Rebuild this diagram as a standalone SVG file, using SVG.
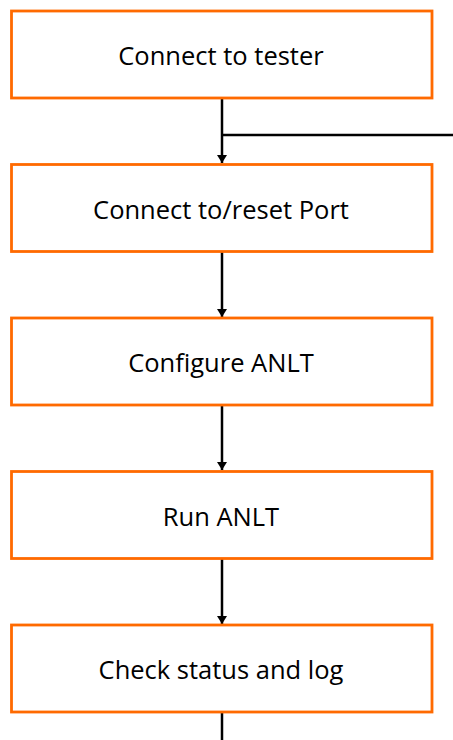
<svg xmlns="http://www.w3.org/2000/svg" width="453" height="740" viewBox="0 0 453 740">
<style>
.box{fill:#fff;stroke:#ff6a00;stroke-width:2.8}
.lbl{font-family:"Open Sans","Liberation Sans",sans-serif;font-size:25.5px;fill:#000;text-anchor:middle;dominant-baseline:central}
.ln{stroke:#000;stroke-width:2.5;fill:none}
</style>
<defs>
<marker id="ah" markerWidth="8" markerHeight="10" refX="8" refY="5" orient="auto" markerUnits="userSpaceOnUse" viewBox="0 0 8 10">
<path d="M0,0 L8,5 L0,10 Z" fill="#000"/>
</marker>
</defs>
<rect width="453" height="740" fill="#fff"/>
<g id="connectors">
<line class="ln" x1="222" y1="98" x2="222" y2="163" marker-end="url(#ah)"/>
<line class="ln" x1="222" y1="135" x2="453" y2="135"/>
<line class="ln" x1="222" y1="251" x2="222" y2="317" marker-end="url(#ah)"/>
<line class="ln" x1="222" y1="405" x2="222" y2="470" marker-end="url(#ah)"/>
<line class="ln" x1="222" y1="558" x2="222" y2="624" marker-end="url(#ah)"/>
<line class="ln" x1="222" y1="712" x2="222" y2="740"/>
</g>
<g id="n1"><rect class="box" x="11.5" y="11" width="420.5" height="87"/><text class="lbl" x="221" y="55">Connect to tester</text></g>
<g id="n2"><rect class="box" x="11.5" y="164.5" width="420.5" height="87"/><text class="lbl" x="221" y="209">Connect to/reset Port</text></g>
<g id="n3"><rect class="box" x="11.5" y="318" width="420.5" height="87"/><text class="lbl" x="221" y="362">Configure ANLT</text></g>
<g id="n4"><rect class="box" x="11.5" y="471.5" width="420.5" height="87"/><text class="lbl" x="221" y="516">Run ANLT</text></g>
<g id="n5"><rect class="box" x="11.5" y="625" width="420.5" height="87"/><text class="lbl" x="221" y="669">Check status and log</text></g>
</svg>
